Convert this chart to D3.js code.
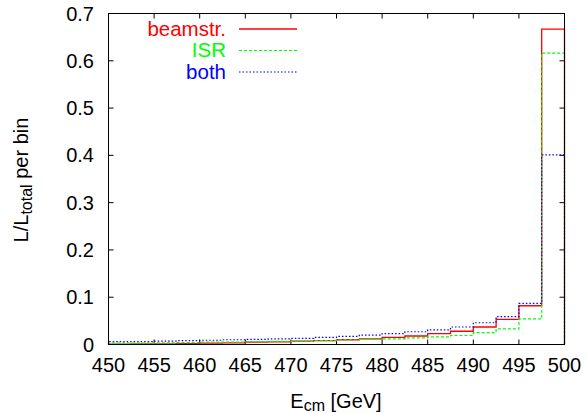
<!DOCTYPE html>
<html><head><meta charset="utf-8">
<script src="https://cdn.jsdelivr.net/npm/d3@7"></script>
<style>body{margin:0;background:#fff}svg{display:block}text{font-family:"Liberation Sans",Arial,Helvetica,sans-serif}</style>
</head><body>
<svg id="c" width="587" height="413"></svg>
<script>
const binEdges = [450,452.5,455,457.5,460,462.5,465,467.5,470,472.5,475,477.5,480,482.5,485,487.5,490,492.5,495,497.5,500];
const beamstr = [0.001,0.0012,0.0015,0.0018,0.003,0.0035,0.005,0.0055,0.007,0.008,0.010,0.012,0.015,0.018,0.023,0.028,0.037,0.053,0.082,0.667];
const isr     = [0.003,0.003,0.0035,0.004,0.005,0.005,0.006,0.0065,0.007,0.008,0.010,0.011,0.012,0.014,0.016,0.019,0.025,0.033,0.054,0.616];
const both    = [0.006,0.006,0.007,0.008,0.009,0.010,0.011,0.012,0.013,0.015,0.017,0.020,0.023,0.027,0.031,0.037,0.046,0.059,0.087,0.401];
const xTicks = [450,455,460,465,470,475,480,485,490,495,500];
const yTicks = [0,0.1,0.2,0.3,0.4,0.5,0.6,0.7];
const seriesNames = ["beamstr.","ISR","both"];

const L=108.5,R=564.5,T=13.5,B=344.5;
const FS=20;
const svg=d3.select("#c");
const x=d3.scaleLinear().domain([450,500]).range([L,R]);
const y=d3.scaleLinear().domain([0,0.7]).range([B,T]);

// ticks (inward, all four sides)
const tl=5;
const g=svg.append("g").attr("stroke","#000").attr("stroke-width",1);
xTicks.forEach(v=>{
  g.append("line").attr("x1",x(v)).attr("x2",x(v)).attr("y1",B).attr("y2",B-tl);
  g.append("line").attr("x1",x(v)).attr("x2",x(v)).attr("y1",T).attr("y2",T+tl);
});
yTicks.forEach(v=>{
  g.append("line").attr("x1",L).attr("x2",L+tl).attr("y1",y(v)).attr("y2",y(v));
  g.append("line").attr("x1",R).attr("x2",R-tl).attr("y1",y(v)).attr("y2",y(v));
});

svg.append("g").selectAll("text").data(xTicks).join("text")
  .attr("x",d=>x(d)).attr("y",372).attr("text-anchor","middle")
  .attr("font-size",FS).text(d=>d);
svg.append("g").selectAll("text").data(yTicks).join("text")
  .attr("x",94).attr("y",d=>y(d)+7).attr("text-anchor","end")
  .attr("font-size",FS).text(d=>d===0?"0":d.toFixed(1));

// axis titles
const xt=svg.append("text").attr("x",336).attr("y",408).attr("text-anchor","middle").attr("font-size",FS);
xt.append("tspan").text("E");
xt.append("tspan").attr("dy",3).attr("font-size",16).text("cm");
xt.append("tspan").attr("dy",-3).text(" [GeV]");
const yt=svg.append("text").attr("transform","translate(28,180) rotate(-90)").attr("text-anchor","middle").attr("font-size",FS);
yt.append("tspan").text("L/L");
yt.append("tspan").attr("dy",4).attr("font-size",16).text("total");
yt.append("tspan").attr("dy",-4).text(" per bin");

// histograms
const styles=[
  {data:beamstr,color:"#ff0000",dash:null,w:1.3},
  {data:isr,color:"#00ff00",dash:"3,2",w:1.2},
  {data:both,color:"#0000ff",dash:"1.5,2",w:1.2}
];
const line=d3.line().x(d=>x(d[0])).y(d=>y(d[1]));
function stepPts(vals){
  const p=[[binEdges[0],0]];
  vals.forEach((v,i)=>{p.push([binEdges[i],v]);p.push([binEdges[i+1],v]);});
  p.push([binEdges[binEdges.length-1],0]);
  return p;
}
styles.forEach(s=>{
  svg.append("path").attr("d",line(stepPts(s.data))).attr("fill","none")
    .attr("stroke",s.color).attr("stroke-width",s.w)
    .attr("stroke-dasharray",s.dash);
});

// legend
const legY=[29,50.5,72];
styles.forEach((s,i)=>{
  svg.append("text").attr("x",226).attr("y",legY[i]+6.5).attr("text-anchor","end")
    .attr("font-size",FS+0.5).attr("fill",s.color).text(seriesNames[i]);
  svg.append("line").attr("x1",239).attr("x2",297).attr("y1",legY[i]).attr("y2",legY[i])
    .attr("stroke",s.color).attr("stroke-width",s.w).attr("stroke-dasharray",s.dash);
});

// border
svg.append("rect").attr("x",L).attr("y",T).attr("width",R-L).attr("height",B-T)
  .attr("fill","none").attr("stroke","#000").attr("stroke-width",1);
</script>
</body></html>
